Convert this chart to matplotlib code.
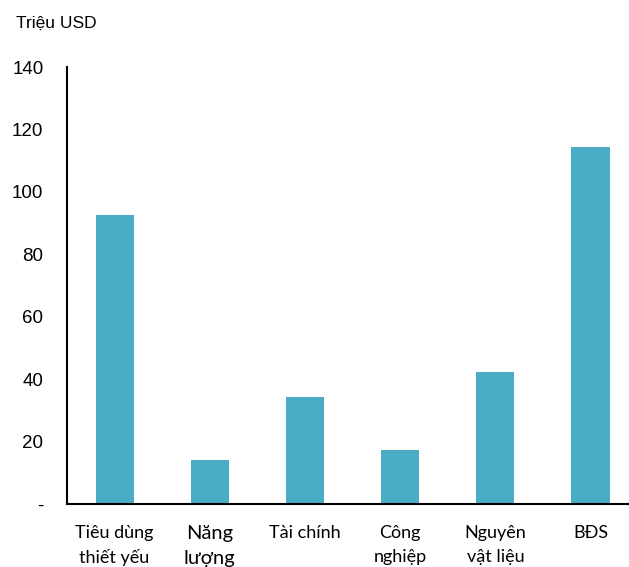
import numpy as np
import matplotlib.pyplot as plt

categories = ["Tiêu dùng\nthiết yếu", "Năng\nlượng", "Tài chính", "Công\nnghiệp", "Nguyên\nvật liệu", "BĐS"]
values = [92.5, 14.2, 34.3, 17.3, 42.3, 114.4]
yticks = [0, 20, 40, 60, 80, 100, 120, 140]
ytick_labels = ["-", "20", "40", "60", "80", "100", "120", "140"]

bar_color = "#4BACC6"

fig = plt.figure(figsize=(6.29, 5.67), dpi=100)
ax = fig.add_axes([0.1065, 0.1111, 0.908, 0.7707])

x = np.arange(len(categories))
ax.bar(x, values, width=0.4, color=bar_color)

ax.set_xlim(-0.5, len(categories) - 0.5)
ax.set_ylim(0, 140)
ax.set_yticks(yticks)
ax.set_yticklabels(ytick_labels, fontfamily="Liberation Sans", fontsize=13.5)
ax.tick_params(axis="y", length=0, pad=17)

ax.set_xticks(x)
ax.set_xticklabels([])
ax.tick_params(axis="x", length=0)
for i, lab in enumerate(categories):
    size = 14.5 if i == 1 else 13
    ax.annotate(lab, xy=(x[i], 0), xycoords=("data", "axes fraction"),
                xytext=(0, -15), textcoords="offset points",
                ha="center", va="top", fontsize=size,
                fontfamily=["Lato", "Open Sans"], linespacing=1.6,
                annotation_clip=False)

for s in ["top", "right"]:
    ax.spines[s].set_visible(False)
for s in ["left", "bottom"]:
    ax.spines[s].set_linewidth(1.5)
    ax.spines[s].set_color("black")

fig.text(16 / 629, 1 - 28 / 567, "Triệu USD", fontfamily="Liberation Sans",
         fontsize=12.5, va="baseline", ha="left")

fig.savefig("out.png", dpi=100)
